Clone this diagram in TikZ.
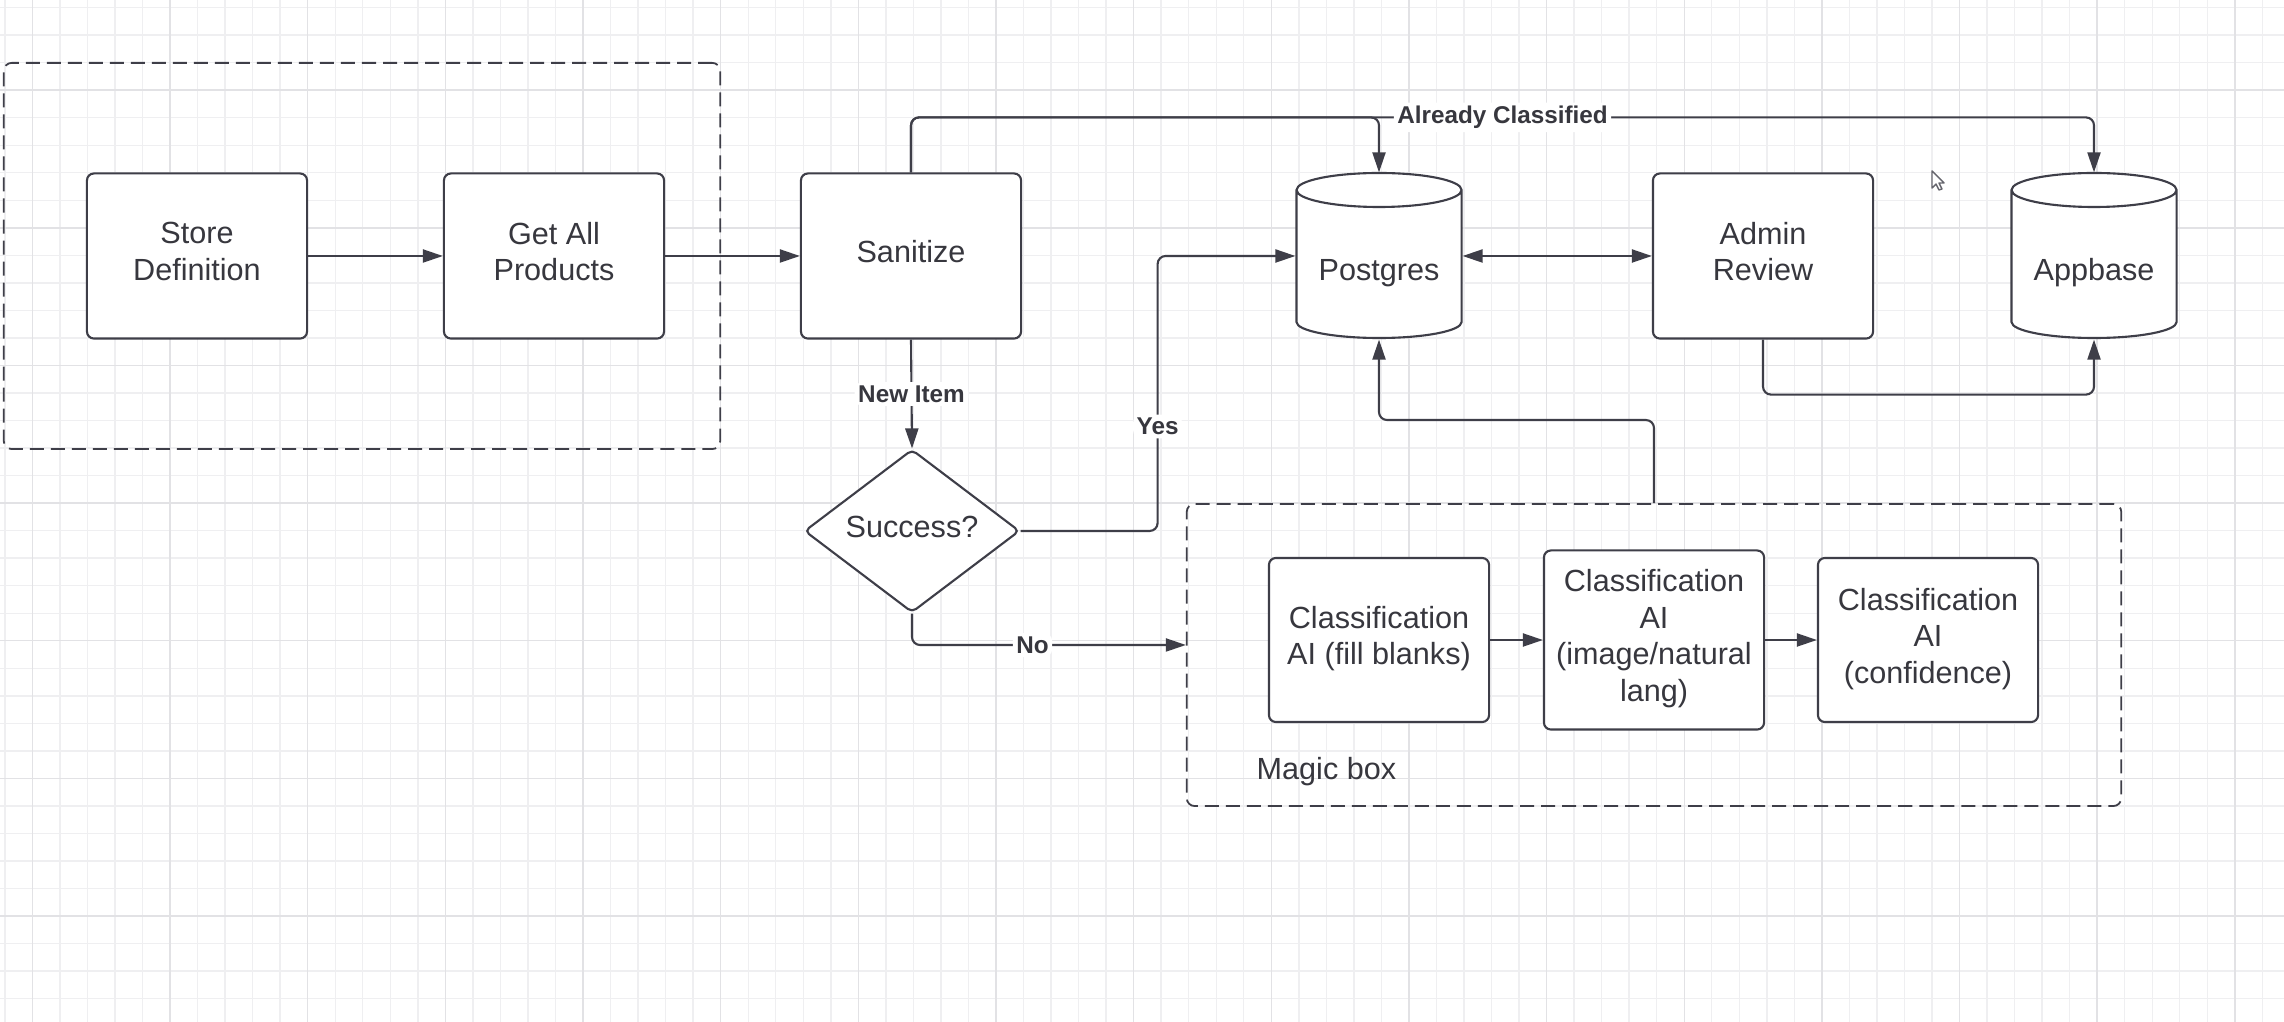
\documentclass[tikz,border=0pt]{standalone}
\usepackage{fontspec}
\setmainfont{Liberation Sans}
\usetikzlibrary{shapes.geometric,arrows.meta}
\definecolor{ink}{RGB}{62,62,72}
\definecolor{txt}{RGB}{55,55,62}
\definecolor{gridminor}{RGB}{239,239,241}
\definecolor{gridmajor}{RGB}{226,226,229}
\newcommand{\dbcyl}[3]{%
	\draw [ink, line width=0.6pt, fill=white] #2 ++(-82.5,-66) -- ++(0,132)
		arc [start angle=180, end angle=360, x radius=0.825cm, y radius=0.16cm] -- ++(0,-132)
		arc [start angle=0, end angle=180, x radius=0.825cm, y radius=0.17cm]
		arc [start angle=180, end angle=360, x radius=0.825cm, y radius=0.17cm]
		#2 node [dbnode] (#1) {#3};
}
\begin{document}
\begin{tikzpicture}[x=0.01cm, y=-0.01cm,
	>={Triangle[length=0.2cm, width=0.13cm]},
	every node/.style={text=txt, font=\fontsize{8.7}{10.4}\selectfont},
	box/.style={draw=ink, fill=white, line width=0.6pt, rounded corners=0.07cm, minimum width=2.2cm, minimum height=1.65cm, inner sep=0pt, align=center, execute at end node={\rule[-0.09cm]{0pt}{0.09cm}}},
	dbnode/.style={minimum width=1.65cm, minimum height=1.65cm, inner sep=0pt, text height=0.55cm},
	decision/.style={diamond, draw=ink, fill=white, line width=0.6pt, rounded corners=0.05cm, minimum width=2.15cm, minimum height=1.62cm, inner sep=0pt, execute at end node={\rule[-0.09cm]{0pt}{0.09cm}}},
	group/.style={draw=ink, line width=0.5pt, dash pattern=on 0.14cm off 0.07cm, rounded corners=0.08cm, inner sep=0pt},
	conn/.style={draw=ink, line width=0.6pt, rounded corners=0.08cm, ->},
	lbl/.style={fill=white, inner sep=1pt, font=\fontsize{6.9}{8}\bfseries\selectfont}
]
\useasboundingbox [fill=white] (0,0) rectangle (2284,1022);
\foreach \i in {0,...,82}{
	\draw [gridminor, line width=0.4pt] ({4.9+27.53*\i},0) -- ({4.9+27.53*\i},1022);
}
\foreach \i in {0,...,37}{
	\draw [gridminor, line width=0.4pt] (0,{7.6+27.53*\i}) -- (2284,{7.6+27.53*\i});
}
\foreach \i in {1,6,...,81}{
	\draw [gridmajor, line width=0.4pt] ({4.9+27.53*\i},0) -- ({4.9+27.53*\i},1022);
}
\foreach \i in {3,8,...,33}{
	\draw [gridmajor, line width=0.4pt] (0,{7.6+27.53*\i}) -- (2284,{7.6+27.53*\i});
}

\node [group, minimum width=7.16cm, minimum height=3.86cm] (source) at (362,256) {};
\node [group, minimum width=9.34cm, minimum height=3.02cm] (magic) at (1654,655) {};
\node [anchor=west, inner sep=0pt] (magiclbl) at (1256,772) {Magic box};

\node [box] (store) at (197,256) {Store\\Definition};
\node [box] (getall) at (554,256) {Get All\\Products};
\node [box] (sanitize) at (911,256) {Sanitize};
\node [box] (admin) at (1763,256) {Admin\\Review};
\dbcyl{postgres}{(1379,256)}{Postgres}
\dbcyl{appbase}{(2094,256)}{Appbase}
\node [decision] (success) at (912,531) {Success?};
\node [box, minimum height=1.64cm] (fill) at (1379,640) {Classification\\AI (fill blanks)};
\node [box, minimum height=1.79cm] (natural) at (1654,640) {Classification\\AI\\(image/natural\\lang)};
\node [box, minimum height=1.64cm] (confidence) at (1928,640) {Classification\\AI\\(confidence)};

\draw [conn] (store) -- (getall);
\draw [conn] (getall) -- (sanitize);
\draw [conn] (sanitize.north) -- ++(0,-55) -| (postgres.north);
\draw [conn] (sanitize.north) -- ++(0,-55) -| node [lbl, pos=0.25] (classified) {Already Classified} (appbase.north);
\draw [conn] (sanitize.south) -- node [lbl] (newitem) {New Item} (success.north);
\draw [conn] (success.east) -- ++(137,0) |- node [lbl, pos=0.19] (yes) {Yes} (postgres.west);
\draw [conn] (success.south) |- node [lbl, pos=0.72] (no) {No} ([yshift=0.1cm]magic.west);
\draw [conn, <->] (postgres) -- (admin);
\draw [conn] (admin.south) -- ++(0,55) -| (appbase.south);
\draw [conn] (magic.north) -- ++(0,-83) -| (postgres.south);
\draw [conn] (fill) -- (natural);
\draw [conn] (natural) -- (confidence);

\draw [ink!80, fill=white, line width=0.4pt, line join=round] (1932,171) -- (1932,188) -- (1936,184) -- (1939,190) -- (1942,189) -- (1939,183) -- (1944,183) -- cycle;
\end{tikzpicture}
\end{document}
